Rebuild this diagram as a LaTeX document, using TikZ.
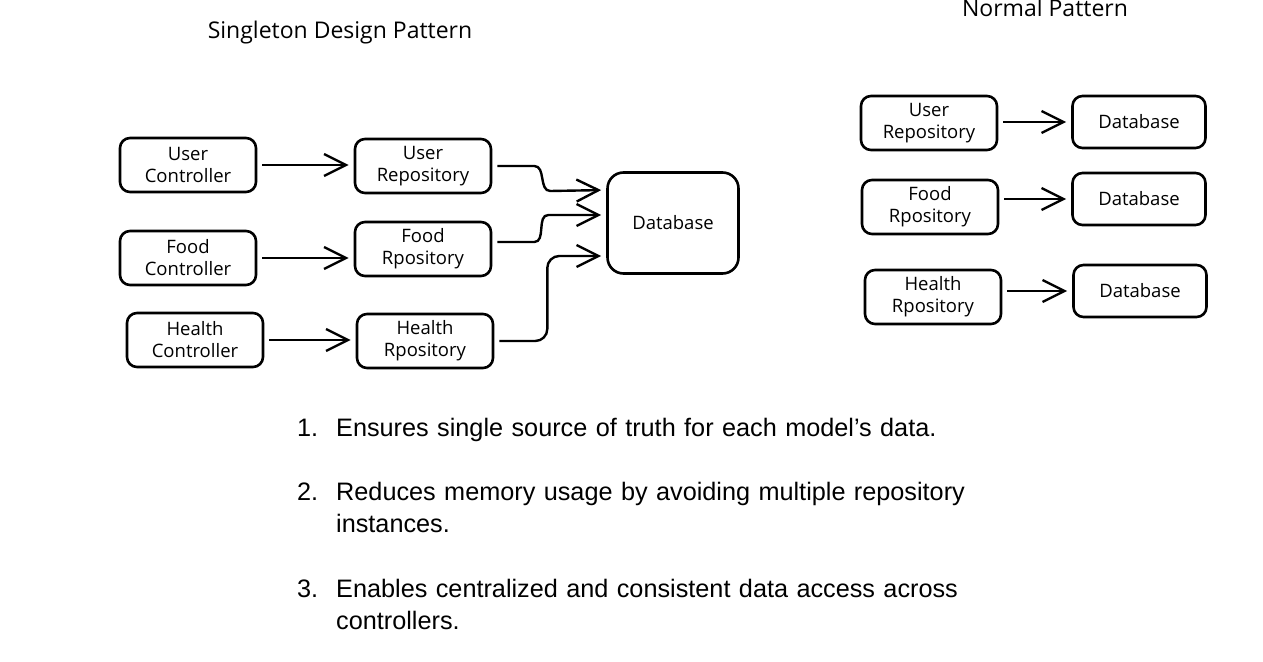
\documentclass[tikz,border=0pt]{standalone}
\usepackage{fontspec}
\setmainfont{Liberation Sans}
\newfontfamily\sketchfont{Open Sans}
\usepackage{tikz}
\usetikzlibrary{arrows.meta}
\tikzset{>={Straight Barb[length=22pt,width=22pt,line width=2.4pt]}}
\tikzset{
    box/.style={draw, line width=2.6pt, rounded corners=10pt, align=center,
        minimum width=136pt, minimum height=54pt, inner sep=0pt,
        font=\sketchfont\fontsize{18.5}{22}\selectfont},
    link/.style={->, line width=2.4pt, shorten <=5pt, shorten >=5pt},
    heading/.style={font=\sketchfont\fontsize{23}{26}\selectfont},
    item/.style={anchor=base west, align=left, inner sep=0pt, text width=700pt,
        font=\fontsize{25.25}{32}\selectfont}
}

\begin{document}
\begin{tikzpicture}[x=1pt, y=-1pt]
    \useasboundingbox (0,0) rectangle (1263,661);

    % singleton design pattern
    \node[heading] at (340,33) (sghead) {Singleton Design Pattern};
    \node[box] at (188,165) (usrctl) {User\\Controller};
    \node[box] at (188,258) (foodctl) {Food\\Controller};
    \node[box] at (195,340) (hlthctl) {Health\\Controller};
    \node[box] at (423,166) (usrrepo) {User\\Repository};
    \node[box] at (423,249) (foodrepo) {Food\\Rpository};
    \node[box] at (425,341) (hlthrepo) {Health\\Rpository};
    \node[box, minimum width=131pt, minimum height=101pt, rounded corners=16pt] at (673,223) (db) {Database};
    \path[link]
    (usrctl.east) edge (usrctl.east -| usrrepo.west)
    (foodctl.east) edge (foodctl.east -| foodrepo.west)
    (hlthctl.east) edge (hlthctl.east -| hlthrepo.west)
    ;
    \draw[link] (usrrepo.east) -- ++(42,0) to[out=0,in=180] ++(16,25) -- ([yshift=33pt]db.west);
    \draw[link] ([yshift=7pt]foodrepo.east) -- ++(42,0) to[out=0,in=180] ++(14,-27) -- ([yshift=8pt]db.west);
    \draw[link, rounded corners=12pt] (hlthrepo.east) -- ++(53,0) |- ([yshift=-33pt]db.west);

    % normal pattern
    \node[heading] at (1045,8) (nmhead) {Normal Pattern};
    \node[box] at (929,123) (nusrrepo) {User\\Repository};
    \node[box] at (930,207) (nfoodrepo) {Food\\Rpository};
    \node[box] at (933,297) (nhlthrepo) {Health\\Rpository};
    \node[box, minimum width=133pt, minimum height=52pt] at (1139,122) (ndb1) {Database};
    \node[box, minimum width=133pt, minimum height=52pt] at (1139,199) (ndb2) {Database};
    \node[box, minimum width=133pt, minimum height=52pt] at (1140,291) (ndb3) {Database};
    \path[link]
    (nusrrepo.east |- ndb1) edge (ndb1)
    (nfoodrepo.east |- ndb2) edge (ndb2)
    (nhlthrepo.east |- ndb3) edge (ndb3)
    ;

    % benefits
    \node[item, text width=30pt] at (297,436) (num1) {1.};
    \node[item] at (336,436) (txt1) {Ensures single source of truth for each model’s data.};
    \node[item, text width=30pt] at (297,500) (num2) {2.};
    \node[item] at (336,500) (txt2) {Reduces memory usage by avoiding multiple repository\\instances.};
    \node[item, text width=30pt] at (297,597) (num3) {3.};
    \node[item] at (336,597) (txt3) {Enables centralized and consistent data access across\\controllers.};
\end{tikzpicture}
\end{document}
